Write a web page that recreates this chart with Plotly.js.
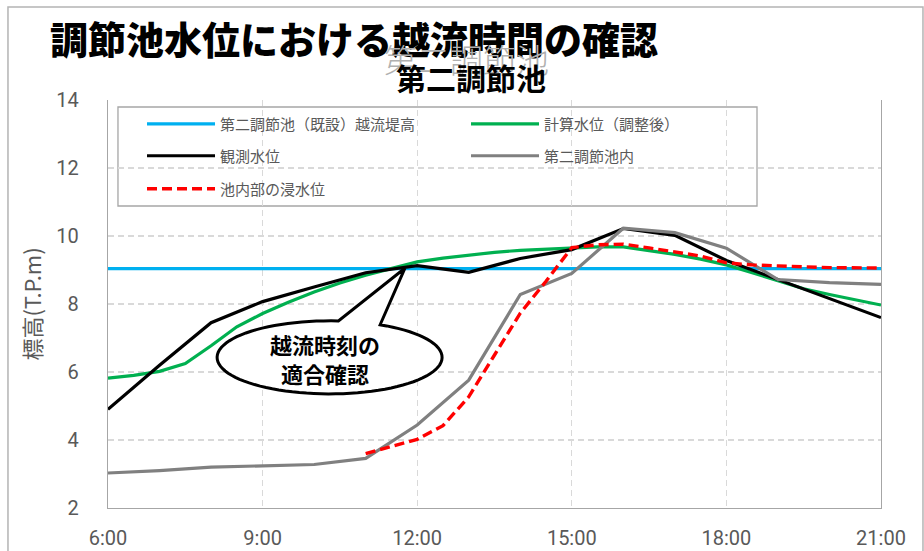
<!DOCTYPE html>
<html>
<head>
<meta charset="utf-8">
<script src="https://cdn.plot.ly/plotly-3.0.1.min.js"></script>
<style>
  html, body { margin: 0; padding: 0; background: #fff; }
  #chart { width: 924px; height: 551px; }
</style>
</head>
<body>
<div id="chart"></div>
<script>
// Time axis (hours of the day) and its labels
const tickHours = [6, 9, 12, 15, 18, 21];
const tickLabels = ['6:00', '9:00', '12:00', '15:00', '18:00', '21:00'];

// Series names
const crestName = '第二調節池（既設）越流堤高';
const calcName = '計算水位（調整後）';
const observedName = '観測水位';
const poolName = '第二調節池内';
const floodName = '池内部の浸水位';

// 越流堤高 (constant crest elevation)
const crestTimes = [6, 21];
const crestLevel = [9.04, 9.04];

// 計算水位（調整後）, half-hourly
const calcTimes = [6, 6.5, 7, 7.5, 8, 8.5, 9, 9.5, 10, 10.5, 11, 11.5, 12, 12.5, 13, 13.5,
                   14, 14.5, 15, 15.5, 16, 16.5, 17, 17.5, 18, 18.5, 19, 19.5, 20, 20.5, 21];
const calcLevel = [5.82, 5.9, 6.02, 6.25, 6.77, 7.33, 7.72, 8.05, 8.35, 8.62, 8.85, 9.05, 9.24, 9.35, 9.44, 9.52,
                   9.58, 9.62, 9.64, 9.68, 9.68, 9.58, 9.46, 9.32, 9.15, 8.92, 8.68, 8.45, 8.28, 8.12, 7.97];

// 観測水位 and 第二調節池内, hourly
const hourTimes = [6, 7, 8, 9, 10, 11, 12, 13, 14, 15, 16, 17, 18, 19, 20, 21];
const observedLevel = [4.9, 6.2, 7.45, 8.07, 8.5, 8.92, 9.13, 8.93, 9.34, 9.6, 10.22, 10.02, 9.28, 8.72, 8.15, 7.6];
const poolLevel = [3.03, 3.1, 3.2, 3.24, 3.28, 3.46, 4.44, 5.76, 8.28, 8.9, 10.23, 10.1, 9.64, 8.72, 8.63, 8.58];

// 池内部の浸水位
const floodTimes = [11, 12, 12.5, 13, 13.5, 14, 14.5, 15, 15.5, 16, 16.5, 17, 17.5, 18, 18.5, 19, 20, 21];
const floodLevel = [3.6, 4.02, 4.42, 5.27, 6.5, 7.73, 8.67, 9.66, 9.74, 9.76, 9.65, 9.54, 9.41, 9.21, 9.15, 9.12, 9.07, 9.06];

const cjk = '"Noto Sans CJK JP", "Noto Sans", sans-serif';
const numFont = '"Liberation Sans Narrow", "Roboto", "Liberation Sans", sans-serif';
const grey = '#595959';

const traces = [
  { x: crestTimes, y: crestLevel, name: crestName, type: 'scatter', mode: 'lines',
    line: { color: '#00B0F0', width: 3.2 }, legend: 'legend' },
  { x: calcTimes, y: calcLevel, name: calcName, type: 'scatter', mode: 'lines',
    line: { color: '#00B050', width: 3.2 }, legend: 'legend' },
  { x: hourTimes, y: observedLevel, name: observedName, type: 'scatter', mode: 'lines',
    line: { color: '#000000', width: 3.2 }, legend: 'legend2' },
  { x: hourTimes, y: poolLevel, name: poolName, type: 'scatter', mode: 'lines',
    line: { color: '#808080', width: 3.2 }, legend: 'legend2' },
  { x: floodTimes, y: floodLevel, name: floodName, type: 'scatter', mode: 'lines',
    line: { color: '#FF0000', width: 3.4, dash: '10px,5px' }, legend: 'legend3' }
];

// Speech-bubble callout: ellipse with a wedge pointing at the overflow moment
function calloutPath(cx, cy, rx, ry, a1, a2, tipX, tipY) {
  const steps = 90;
  const end = a2 + 360;
  let d = '';
  for (let i = 0; i <= steps; i++) {
    const t = (a1 + (end - a1) * i / steps) * Math.PI / 180;
    const px = cx + rx * Math.cos(t);
    const py = cy + ry * Math.sin(t);
    d += (i === 0 ? 'M' : 'L') + px.toFixed(4) + ',' + py.toFixed(4);
  }
  d += 'L' + tipX + ',' + tipY + 'Z';
  return d;
}

const legendBase = {
  orientation: 'h', xref: 'paper', yref: 'paper', xanchor: 'left', yanchor: 'middle',
  bgcolor: 'rgba(0,0,0,0)', borderwidth: 0, itemwidth: 68,
  entrywidth: 241, entrywidthmode: 'pixels',
  font: { family: cjk, size: 15, color: grey }
};

const layout = {
  width: 924, height: 551,
  margin: { l: 108, r: 43, t: 100, b: 43 },
  paper_bgcolor: '#ffffff', plot_bgcolor: '#ffffff',
  showlegend: true,
  title: {
    text: '調節池水位における越流時間の確認',
    xref: 'container', yref: 'container', x: 0.054, xanchor: 'left', y: 0.926, yanchor: 'middle',
    font: { family: cjk, size: 38, color: '#000000', weight: 900 }
  },
  xaxis: {
    range: [6, 21], tickvals: tickHours, ticktext: tickLabels,
    showgrid: true, gridcolor: '#d9d9d9', griddash: '6px,4px', gridwidth: 1.2,
    showline: true, linecolor: '#a6a6a6', linewidth: 1.3, zeroline: false,
    ticks: '', ticklabelstandoff: 12,
    tickfont: { family: numFont, size: 20, color: grey }
  },
  yaxis: {
    range: [2, 14], tick0: 2, dtick: 2,
    showgrid: true, gridcolor: '#d9d9d9', griddash: '6px,4px', gridwidth: 1.2,
    showline: true, mirror: true, linecolor: '#a6a6a6', linewidth: 1.3, zeroline: false,
    ticks: '', ticklabelstandoff: 24,
    tickfont: { family: numFont, size: 20, color: grey },
    title: { text: '標高(T.P.m)', standoff: 8, font: { family: cjk, size: 22, color: grey } }
  },
  legend: Object.assign({}, legendBase, { x: 0.044, y: 0.941 }),
  legend2: Object.assign({}, legendBase, { x: 0.044, y: 0.8627 }),
  legend3: Object.assign({}, legendBase, { x: 0.044, y: 0.782 }),
  shapes: [
    // chart frame
    { type: 'rect', xref: 'paper', yref: 'paper', x0: -0.1294, x1: 1.0543, y0: -0.15, y1: 1.228,
      line: { color: '#b4b4b4', width: 1.5 }, fillcolor: 'rgba(0,0,0,0)', layer: 'below' },
    // legend box
    { type: 'rect', xref: 'paper', yref: 'paper', x0: 0.0129, x1: 0.8396, y0: 0.7402, y1: 0.9828,
      line: { color: '#a6a6a6', width: 1.3 }, fillcolor: '#ffffff', layer: 'between' },
    // callout bubble
    { type: 'path', xref: 'x', yref: 'y',
      path: calloutPath(10.30, 6.43, 2.183, 1.074, 85.5, 63.3, 11.76, 9.05),
      line: { color: '#000000', width: 3 }, fillcolor: '#ffffff', layer: 'above' }
  ],
  annotations: [
    // faint heading drawn behind the subtitle
    { text: '第二調節池', xref: 'paper', yref: 'paper', x: (466 - 108) / 773, y: (508 - 59) / 408,
      xanchor: 'center', yanchor: 'middle', showarrow: false,
      font: { family: cjk, size: 33, color: '#b0b0b0', weight: 300 } },
    { text: '第二調節池', xref: 'paper', yref: 'paper', x: (471 - 108) / 773, y: (508 - 77) / 408,
      xanchor: 'center', yanchor: 'middle', showarrow: false,
      font: { family: cjk, size: 30, color: '#000000', weight: 'bold' } },
    { text: '越流時刻の<br>適合確認', xref: 'x', yref: 'y', x: 10.21, y: 6.40,
      xanchor: 'center', yanchor: 'middle', showarrow: false, align: 'center',
      font: { family: cjk, size: 22, color: '#000000', weight: 'bold' } }
  ]
};

Plotly.newPlot('chart', traces, layout, { displayModeBar: false, staticPlot: true });
</script>
</body>
</html>
